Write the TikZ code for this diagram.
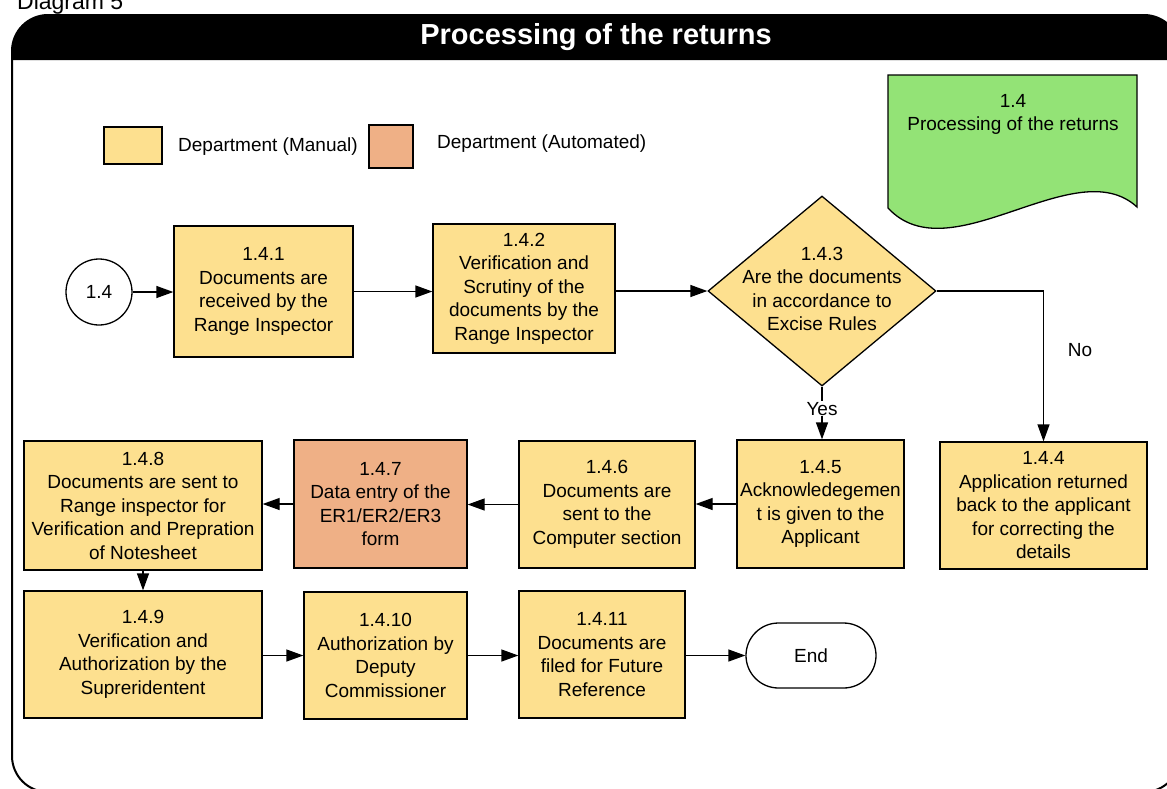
\documentclass[tikz,border=0pt]{standalone}
\usepackage{fontspec}
\setmainfont{Liberation Sans}
\usetikzlibrary{arrows.meta,shapes.geometric,shapes.misc}
\definecolor{manual}{RGB}{253,224,143}
\definecolor{auto}{RGB}{239,176,134}
\definecolor{docgreen}{RGB}{147,227,118}
\begin{document}
\begin{tikzpicture}[x=1pt,y=-1pt,
  txt/.style={font=\fontsize{19}{23.5}\selectfont, align=center, inner sep=0pt},
  proc/.style={txt, draw=black, line width=1.3, fill=manual, rectangle},
  autoproc/.style={proc, fill=auto},
  decision/.style={diamond, draw=black, line width=1.3, fill=manual, inner sep=0pt},
  terminal/.style={txt, rounded rectangle, draw=black, line width=1.3, fill=white},
  conn/.style={txt, circle, draw=black, line width=1.3, fill=white, minimum size=66},
  arr/.style={line width=1.3, -{Triangle[length=17,width=12]}},
  lbl/.style={font=\fontsize{19}{23.5}\selectfont, inner sep=1pt}
]
\useasboundingbox (0,0) rectangle (1167,788);

% page caption
\node[anchor=base west, font=\fontsize{23}{26}\selectfont, inner sep=0pt] (cap) at (17,9) {Diagram 5};

% frame with black title bar
\begin{scope}
  \clip (0,0) rectangle (1167,788);
  \fill[black] (12,60) [rounded corners=36] -- (12,15) -- (1180,15) [sharp corners] -- (1180,60) -- cycle;
  \draw[line width=2, rounded corners=36] (12,15) rectangle (1180,792);
\end{scope}
\node[font=\bfseries\fontsize{29}{32}\selectfont, text=white, inner sep=0pt] (title) at (596,37) {Processing of the returns};

% legend
\node[draw=black, line width=1.3, fill=manual, minimum width=58, minimum height=37, inner sep=0pt] (legm) at (133,145.5) {};
\node[lbl, anchor=west] (legmt) at (177,147) {Department (Manual)};
\node[draw=black, line width=1.3, fill=auto, minimum width=44, minimum height=43, inner sep=0pt] (lega) at (391,146.5) {};
\node[lbl, anchor=west] (legat) at (436,144) {Department (Automated)};

% document symbol
\filldraw[fill=docgreen, draw=black, line width=1.3]
  (888,75) -- (1137,75) -- (1137,207)
  .. controls (1075,150) and (950,275) .. (888,208) -- cycle;
\node[txt, anchor=north] (doc) at (1013,94) {1.4\\Processing of the returns};

% flow nodes
\node[conn] (c) at (99,292) {1.4};
\node[proc, minimum width=179, minimum height=131] (b1) at (263.5,291.5)
  {1.4.1\\Documents are\\received by the\\Range Inspector};
\node[proc, minimum width=182, minimum height=129] (b2) at (524,288.5)
  {1.4.2\\Verification and\\Scrutiny of the\\documents by the\\Range Inspector};
\node[decision, minimum width=228, minimum height=190] (d3) at (822,291) {};
\node[txt] (d3t) at (822,289) {1.4.3\\Are the documents\\in accordance to\\Excise Rules};
\node[proc, minimum width=207, minimum height=127] (b4) at (1043.5,505.5)
  {1.4.4\\Application returned\\back to the applicant\\for correcting the\\details};
\node[proc, minimum width=167, minimum height=128] (b5) at (820.5,504)
  {1.4.5\\Acknowledegemen\\t is given to the\\Applicant};
\node[proc, minimum width=176, minimum height=127] (b6) at (607,504.5)
  {1.4.6\\Documents are\\sent to the\\Computer section};
\node[autoproc, minimum width=173, minimum height=128] (b7) at (380.5,504)
  {1.4.7\\Data entry of the\\ER1/ER2/ER3\\form};
\node[proc, minimum width=238, minimum height=129] (b8) at (143,505.5)
  {1.4.8\\Documents are sent to\\Range inspector for\\Verification and Prepration\\of Notesheet};
\node[proc, minimum width=238, minimum height=127] (b9) at (143,654.5)
  {1.4.9\\Verification and\\Authorization by the\\Supreridentent};
\node[proc, minimum width=163, minimum height=127] (b10) at (385.5,655.5)
  {1.4.10\\Authorization by\\Deputy\\Commissioner};
\node[proc, minimum width=166, minimum height=127] (b11) at (602,654.5)
  {1.4.11\\Documents are\\filed for Future\\Reference};
\node[terminal, minimum width=130, minimum height=65] (end) at (811,655.5) {End};

% connectors
\draw[arr] (c.east) -- (c.east -| b1.west);
\draw[arr] (b1.east) -- (b1.east -| b2.west);
\draw[arr] (d3.west -| b2.east) -- (d3.west);
\draw[arr] (d3.east) -| (b4.north);
\node[lbl] (no) at (1080,350) {No};
\draw[arr] (d3.south) -- node[lbl, fill=white, pos=0.42] (yes) {Yes} (d3.south |- b5.north);
\draw[arr] (b5.west) -- (b5.west -| b6.east);
\draw[arr] (b6.west) -- (b6.west -| b7.east);
\draw[arr] (b7.west) -- (b7.west -| b8.east);
\draw[arr] (b8.south) -- (b9.north);
\draw[arr] (b9.east |- b10.west) -- (b10.west);
\draw[arr] (b10.east) -- (b10.east -| b11.west);
\draw[arr] (b11.east |- end.west) -- (end.west);
\end{tikzpicture}
\end{document}
